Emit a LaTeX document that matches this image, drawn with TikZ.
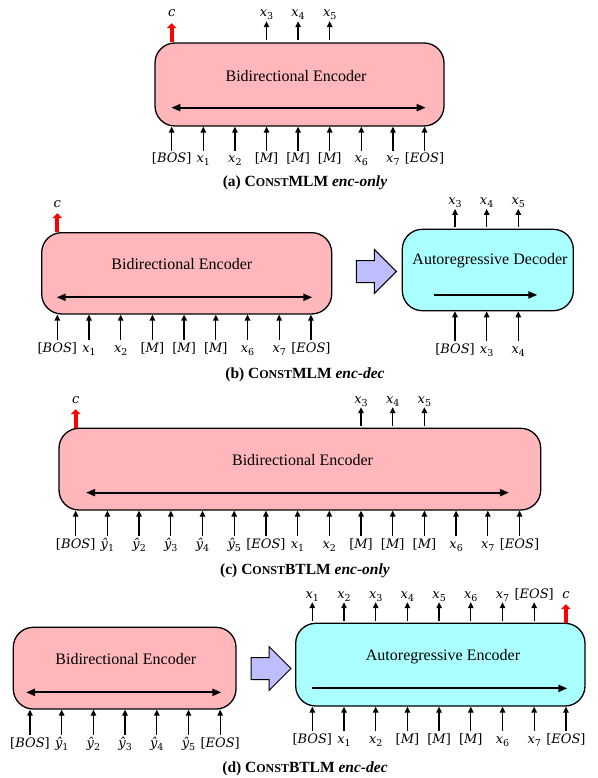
\documentclass[tikz,border=0pt]{standalone}
\usepackage{fontspec}
\setmainfont{Liberation Serif}
\newfontfamily\tokfont{DejaVu Serif}
\usetikzlibrary{arrows.meta,shapes.arrows}
\definecolor{encpink}{HTML}{FFB7BB}
\definecolor{deccyan}{HTML}{AAFFFF}
\definecolor{flowblue}{HTML}{BEBEFF}
\newcommand{\capsc}[1]{{\fontsize{12}{14}\selectfont #1}}
\newcommand{\brk}[1]{{\upshape[}#1{\upshape]}}
\newcommand{\subidx}[1]{\raisebox{-3pt}{\fontsize{9.5}{11}\selectfont\upshape#1}}
\newcommand{\xs}[1]{x\subidx{#1}}
\newcommand{\ys}[1]{ŷ\subidx{#1}}
\tikzset{
  block/.style={draw=black,line width=1.3pt,rounded corners=20pt,inner sep=0pt},
  title/.style={font=\fontsize{16}{19}\selectfont,inner sep=0pt},
  tok/.style={font=\tokfont\itshape\fontsize{13}{15}\selectfont,inner sep=0pt,text height=10pt,text depth=4pt},
  tokarrow/.style={line width=1.3pt,shorten <=2pt,-{Triangle[width=5.5pt,length=6pt]}},
  ctxarrow/.style={red,line width=4pt,shorten >=2pt,-{Triangle[width=9.5pt,length=5pt]}},
  bidir/.style={line width=2pt,{Triangle[width=7pt,length=9pt]}-{Triangle[width=7pt,length=9pt]}},
  unidir/.style={line width=2pt,-{Triangle[width=7pt,length=9pt]}},
  flow/.style={single arrow,draw=black,line width=1pt,fill=flowblue,minimum height=40pt,
    single arrow head extend=11pt,inner sep=10.5pt},
  caption/.style={font=\fontsize{15.5}{18}\selectfont\bfseries,inner sep=0pt}
}

\begin{document}
\begin{tikzpicture}[x=1pt,y=-1pt]
  \useasboundingbox (0,0) rectangle (597,778);

  % (a)
  \node[block,fill=encpink,minimum width=289pt,minimum height=83pt] (encA) at (299.5,84.5) {};
  \node[title] (encAtitle) at (296,76) {Bidirectional Encoder};
  \draw[bidir] ([shift={(17pt,19pt)}]encA.south west) -- ([shift={(-19pt,19pt)}]encA.south east);
  \foreach \lab [count=\i] in {\brk{BOS},\xs{1},\xs{2},\brk{M},\brk{M},\brk{M},\xs{6},\xs{7},\brk{EOS}}
    \node[tok] (inA\i) at ({171.7+31.6*(\i-1)},160) {\lab};
  \foreach \i in {1,...,9}
    \draw[tokarrow] (inA\i) -- (inA\i |- encA.south);
  \foreach \lab/\k in {\xs{3}/4,\xs{4}/5,\xs{5}/6}
    \node[tok] (outA\k) at ({171.7+31.6*(\k-1)},14) {\lab};
  \foreach \k in {4,5,6}
    \draw[tokarrow] (outA\k |- encA.north) -- (outA\k);
  \node[tok] (ctxA) at (171.7,14) {c};
  \draw[ctxarrow] (ctxA |- encA.north) -- (ctxA);
  \node[caption] (capA) at (305,183) {(a) C\capsc{ONST}MLM \textit{enc-only}};

  % (b)
  \node[block,fill=encpink,minimum width=290pt,minimum height=81.3pt] (encB) at (186.7,273.3) {};
  \node[title] (encBtitle) at (181.8,264.3) {Bidirectional Encoder};
  \draw[bidir] ([shift={(15.6pt,17.3pt)}]encB.south west) -- ([shift={(-20pt,17.3pt)}]encB.south east);
  \foreach \lab [count=\i] in {\brk{BOS},\xs{1},\xs{2},\brk{M},\brk{M},\brk{M},\xs{6},\xs{7},\brk{EOS}}
    \node[tok] (inB\i) at ({57.3+31.7*(\i-1)},349) {\lab};
  \foreach \i in {1,...,9}
    \draw[tokarrow] (inB\i) -- (inB\i |- encB.south);
  \node[tok] (ctxB) at (57.3,204) {c};
  \draw[ctxarrow] (ctxB |- encB.north) -- (ctxB);
  \node[flow] (flowB) at (370.9,271.5) {};
  \node[block,fill=deccyan,minimum width=171pt,minimum height=81.4pt] (decB) at (487.8,270) {};
  \node[title] (decBtitle) at (490,260.7) {Autoregressive Decoder};
  \draw[unidir] ([shift={(32.7pt,16.4pt)}]decB.south west) -- ([shift={(-36.6pt,16.4pt)}]decB.south east);
  \foreach \lab [count=\i] in {\brk{BOS},\xs{3},\xs{4}}
    \node[tok] (inD\i) at ({455+31.65*(\i-1)},350) {\lab};
  \foreach \lab [count=\i] in {\xs{3},\xs{4},\xs{5}}
    \node[tok] (outD\i) at ({455+31.65*(\i-1)},201.7) {\lab};
  \foreach \i in {1,2,3} {
    \draw[tokarrow] (inD\i) -- (inD\i |- decB.south);
    \draw[tokarrow] (outD\i |- decB.north) -- (outD\i);
  }
  \node[caption] (capB) at (305,375) {(b) C\capsc{ONST}MLM \textit{enc-dec}};

  % (c)
  \node[block,fill=encpink,minimum width=481.7pt,minimum height=81.7pt] (encC) at (299.85,469.15) {};
  \node[title] (encCtitle) at (302.5,460) {Bidirectional Encoder};
  \draw[bidir] ([shift={(27.7pt,18pt)}]encC.south west) -- ([shift={(-32.4pt,18pt)}]encC.south east);
  \foreach \lab [count=\i] in {\brk{BOS},\ys{1},\ys{2},\ys{3},\ys{4},\ys{5},\brk{EOS},\xs{1},\xs{2},\brk{M},\brk{M},\brk{M},\xs{6},\xs{7},\brk{EOS}}
    \node[tok] (inC\i) at ({75.7+31.7*(\i-1)},545) {\lab};
  \foreach \i in {1,...,15}
    \draw[tokarrow] (inC\i) -- (inC\i |- encC.south);
  \foreach \lab/\k in {\xs{3}/10,\xs{4}/11,\xs{5}/12}
    \node[tok] (outC\k) at ({75.7+31.7*(\k-1)},400) {\lab};
  \foreach \k in {10,11,12}
    \draw[tokarrow] (outC\k |- encC.north) -- (outC\k);
  \node[tok] (ctxC) at (75.7,400) {c};
  \draw[ctxarrow] (ctxC |- encC.north) -- (ctxC);
  \node[caption] (capC) at (305,571) {(c) C\capsc{ONST}BTLM \textit{enc-only}};

  % (d)
  \node[block,fill=encpink,minimum width=222.7pt,minimum height=81.7pt] (encD) at (124.65,668.15) {};
  \node[title] (encDtitle) at (125.8,659) {Bidirectional Encoder};
  \draw[bidir] ([shift={(13.4pt,17.3pt)}]encD.south west) -- ([shift={(-15.3pt,17.3pt)}]encD.south east);
  \foreach \lab [count=\i] in {\brk{BOS},\ys{1},\ys{2},\ys{3},\ys{4},\ys{5},\brk{EOS}}
    \node[tok] (inE\i) at ({30+31.7*(\i-1)},744) {\lab};
  \foreach \i in {1,...,7}
    \draw[tokarrow] (inE\i) -- (inE\i |- encD.south);
  \node[flow] (flowD) at (265.5,668.5) {};
  \node[block,fill=deccyan,minimum width=289.3pt,minimum height=82.7pt] (decD) at (440.35,664.65) {};
  \node[title] (decDtitle) at (443,656.7) {Autoregressive Encoder};
  \draw[unidir] ([shift={(16.6pt,18.3pt)}]decD.south west) -- ([shift={(-18.3pt,18.3pt)}]decD.south east);
  \foreach \lab [count=\i] in {\brk{BOS},\xs{1},\xs{2},\brk{M},\brk{M},\brk{M},\xs{6},\xs{7},\brk{EOS}}
    \node[tok] (inF\i) at ({312.3+31.7*(\i-1)},740) {\lab};
  \foreach \i in {1,...,9}
    \draw[tokarrow] (inF\i) -- (inF\i |- decD.south);
  \foreach \lab [count=\i] in {\xs{1},\xs{2},\xs{3},\xs{4},\xs{5},\xs{6},\xs{7},\brk{EOS}}
    \node[tok] (outF\i) at ({312.3+31.7*(\i-1)},595) {\lab};
  \foreach \i in {1,...,8}
    \draw[tokarrow] (outF\i |- decD.north) -- (outF\i);
  \node[tok] (ctxD) at (565.9,595) {c};
  \draw[ctxarrow] (ctxD |- decD.north) -- (ctxD);
  \node[caption] (capD) at (305,768.5) {(d) C\capsc{ONST}BTLM \textit{enc-dec}};
\end{tikzpicture}
\end{document}
